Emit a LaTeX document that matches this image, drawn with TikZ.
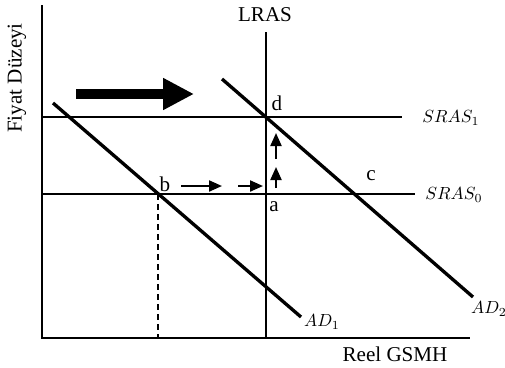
\documentclass[tikz,border=0pt]{standalone}
\usepackage{fontspec}
\setmainfont{Liberation Serif}
\usetikzlibrary{arrows.meta}
\tikzset{
  axisline/.style={line width=1.2pt},
  curve/.style={line width=1.9pt},
  srasline/.style={line width=1.4pt},
  movearrow/.style={line width=1.2pt, -{Triangle[length=2.6mm,width=2.2mm]}},
  bigarrow/.style={line width=2mm, -{Triangle[length=6.2mm,width=6mm]}},
  lbl/.style={inner sep=1pt, font=\fontsize{12}{14}\selectfont},
  mathlbl/.style={inner sep=1pt, font=\fontsize{10}{12}\selectfont},
  every picture/.append style={baseline=(current bounding box.center)}
}

\begin{document}
\begin{tikzpicture}[x=0.2mm,y=-0.2mm]
  \useasboundingbox (0,0) rectangle (505,367);
  % axes
  \coordinate (O) at (42,338);
  \coordinate (ytop) at (42,5);
  \coordinate (xend) at (470,338);
  \draw[axisline] (ytop) -- (O) -- (xend);
  \node[lbl, rotate=90] (ylab) at (17,78) {Fiyat Düzeyi};
  \node[lbl] (xlab) at (395,354) {Reel GSMH};
  % long run supply
  \coordinate (lrtop) at (266,32);
  \coordinate (lrbot) at (266,338);
  \draw[axisline] (lrtop) -- (lrbot);
  \node[lbl] (lras) at (265,15) {LRAS};
  % short run supply
  \coordinate (s1l) at (42,117);
  \coordinate (s1r) at (402,117);
  \coordinate (s0l) at (42,194);
  \coordinate (s0r) at (415,194);
  \draw[srasline] (s1l) -- (s1r);
  \draw[srasline] (s0l) -- (s0r);
  \node[mathlbl] (sras1) at (451,118) {$SRAS_1$};
  \node[mathlbl] (sras0) at (454,195) {$SRAS_0$};
  % demand
  \coordinate (ad1a) at (53,103);
  \coordinate (ad1b) at (301,317);
  \coordinate (ad2a) at (222,79);
  \coordinate (ad2b) at (473,297);
  \draw[curve] (ad1a) -- (ad1b);
  \draw[curve] (ad2a) -- (ad2b);
  \node[mathlbl] (ad1) at (322,322) {$AD_1$};
  \node[mathlbl] (ad2) at (489,309) {$AD_2$};
  % points
  \coordinate (b) at (158,194);
  \coordinate (bx) at (158,338);
  \draw[line width=1pt, dash pattern=on 1.2mm off 0.8mm] (b) -- (bx);
  \node[lbl] (lb) at (165,184) {b};
  \node[lbl] (la) at (274,207) {a};
  \node[lbl] (lc) at (371,176) {c};
  \node[lbl] (ld) at (277,103) {d};
  % movement arrows
  \coordinate (h1a) at (181,186);
  \coordinate (h1b) at (222,186);
  \coordinate (h2a) at (238,186);
  \coordinate (h2b) at (263,186);
  \draw[movearrow] (h1a) -- (h1b);
  \draw[movearrow] (h2a) -- (h2b);
  \coordinate (v1a) at (276,188);
  \coordinate (v1b) at (276,167);
  \coordinate (v2a) at (276,159);
  \coordinate (v2b) at (276,133);
  \draw[movearrow] (v1a) -- (v1b);
  \draw[movearrow] (v2a) -- (v2b);
  \coordinate (big1) at (76,94);
  \coordinate (big2) at (194,94);
  \draw[bigarrow] (big1) -- (big2);
\end{tikzpicture}
\end{document}
